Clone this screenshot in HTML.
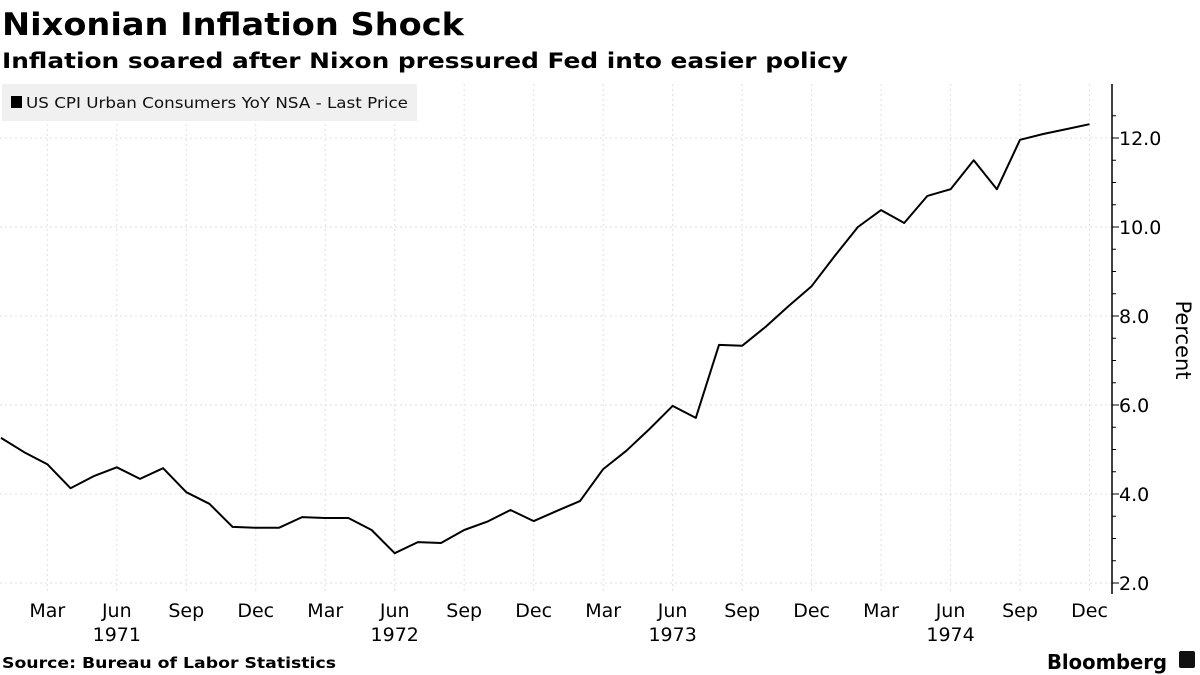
<!DOCTYPE html>
<html><head><meta charset="utf-8"><style>
html,body{margin:0;padding:0;background:#fff;}
svg{display:block;font-family:"DejaVu Sans","Liberation Sans",sans-serif;}
</style></head><body>
<svg id="chart" width="1200" height="675" viewBox="0 0 1200 675">
<text x="2" y="35" font-size="31" font-weight="bold" textLength="462" lengthAdjust="spacingAndGlyphs">Nixonian Inflation Shock</text>
<text x="2" y="68" font-size="21" font-weight="bold" textLength="846" lengthAdjust="spacingAndGlyphs">Inflation soared after Nixon pressured Fed into easier policy</text>
<g id="grid"></g>
<rect x="2" y="84" width="415" height="37" fill="#f0f0f0"/>
<rect x="11" y="96" width="11" height="12" fill="#000"/>
<text x="26" y="108" font-size="15" fill="#111" textLength="382" lengthAdjust="spacingAndGlyphs">US CPI Urban Consumers YoY NSA - Last Price</text>
<g id="axes"></g>
<path id="line" fill="none" stroke="#000" stroke-width="2" stroke-linejoin="round"/>
<text transform="translate(1176,340) rotate(90)" font-size="21" text-anchor="middle">Percent</text>
<text x="2" y="668" font-size="15" font-weight="bold" textLength="334" lengthAdjust="spacingAndGlyphs">Source: Bureau of Labor Statistics</text>
<text x="1047" y="669" font-size="20" font-weight="bold" textLength="120" lengthAdjust="spacingAndGlyphs">Bloomberg</text>
<rect x="1179" y="651" width="16" height="17" rx="2" fill="#111"/>
</svg>
<script>
const values = [5.26,4.94,4.67,4.13,4.4,4.6,4.34,4.58,4.04,3.78,3.26,3.24,
3.24,3.48,3.46,3.46,3.19,2.67,2.92,2.9,3.19,3.38,3.64,3.39,
3.62,3.84,4.56,4.97,5.46,5.98,5.71,7.35,7.33,7.75,8.22,8.67,
9.35,10.0,10.38,10.09,10.7,10.85,11.5,10.85,11.96,12.09,12.2,12.31];
const yTicks = [2,4,6,8,10,12];
const monthLabels = ["Mar","Jun","Sep","Dec"];
const years = ["1971","1972","1973","1974"];
const NS="http://www.w3.org/2000/svg";
const x = i => 1 + i*23.16;
const y = v => 583 - (v-2)*44.5;
function mk(tag, attrs, parent, txt){const e=document.createElementNS(NS,tag);for(const k in attrs)e.setAttribute(k,attrs[k]);if(txt!==undefined)e.textContent=txt;parent.appendChild(e);return e;}
const grid=document.getElementById('grid'), axes=document.getElementById('axes');
yTicks.forEach(t=>{
  const g=mk('line',{x1:0,x2:1112,y1:y(t),y2:y(t),stroke:'#e0e0e0','stroke-dasharray':'2,3'},grid);
  
  
  const tk=mk('line',{x1:1112,x2:1119,y1:y(t),y2:y(t),stroke:'#000'},axes);
  
  
  const l=mk('text',{x:1119,y:y(t)+7,'font-size':19},axes,t.toFixed(1));
  
  
});
for(let v=2.5;v<13;v+=0.5){ if(v%2===0) continue;
  const m=mk('line',{x1:1112,x2:1116,y1:y(v),y2:y(v),stroke:'#000'},axes);
  
  
}
const ax=mk('line',{x1:1112,x2:1112,y1:84,y2:594,stroke:'#000','stroke-width':1.5},axes);


for(let i=2;i<values.length;i+=3){
  const q=((i-2)/3)%4;
  const g=mk('line',{x1:x(i),x2:x(i),y1:84,y2:594,stroke:'#e0e0e0','stroke-dasharray':'2,3'},grid);
  
  
  const l=mk('text',{x:x(i),y:617,'font-size':19,'text-anchor':'middle'},axes,monthLabels[q]);
  
  
  if(q===1){
    const yl=mk('text',{x:x(i),y:641,'font-size':19,'text-anchor':'middle'},axes,years[Math.floor(i/12)]);
    
    
  }
}
document.getElementById('line').setAttribute('d',values.map((v,i)=>(i?'L':'M')+x(i).toFixed(1)+','+y(v).toFixed(1)).join(''));
</script>
</body></html>
